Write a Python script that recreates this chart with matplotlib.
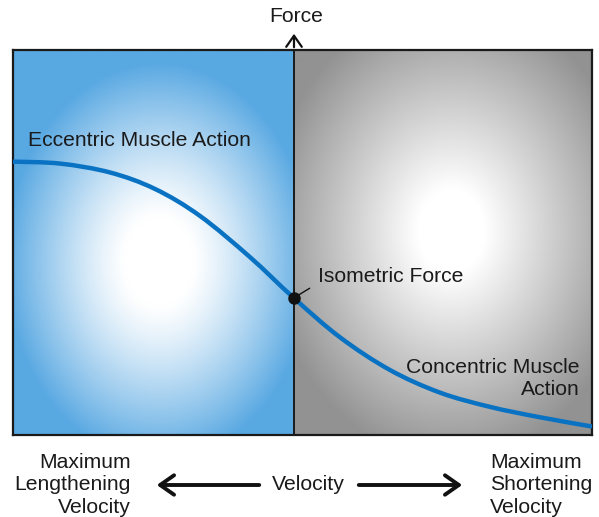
import numpy as np
import matplotlib
matplotlib.use("Agg")
import matplotlib.pyplot as plt
from matplotlib.path import Path
from matplotlib.patches import PathPatch, FancyArrowPatch

plt.rcParams['font.family'] = ['Liberation Sans', 'DejaVu Sans']

# Force-velocity relationship (velocity: negative = lengthening, positive = shortening)
velocity = [-1.0, -0.833, -0.655, -0.494, -0.334, -0.156, 0.0,
            0.164, 0.342, 0.521, 0.699, 0.877, 1.062]
force = [0.710, 0.705, 0.682, 0.639, 0.569, 0.462, 0.356,
         0.254, 0.169, 0.110, 0.073, 0.046, 0.022]
isometric_force = 0.356

x_min, x_max = -1.0, 1.062
y_min, y_max = 0.0, 1.0

BLUE_EDGE = np.array([88, 168, 226]) / 255
GRAY_EDGE = np.array([146, 146, 146]) / 255
CURVE = '#0a72c2'
INK = '#1a1a1a'
FS = 15.2

fig = plt.figure(figsize=(5.99, 5.17), dpi=100)
W, H = 599, 517
ax = fig.add_axes([13 / W, (H - 435) / H, 579 / W, 385 / H])
ax.set_xticks([])
ax.set_yticks([])
for s in ax.spines.values():
    s.set_linewidth(1.6)
    s.set_color(INK)


def radial_fill(x0, x1, cx, cy, rx, ry, edge, inner=0.22, power=1.2):
    nx, ny = 300, 300
    xs = np.linspace(x0, x1, nx)
    ys = np.linspace(y_min, y_max, ny)
    X, Y = np.meshgrid(xs, ys)
    d = np.sqrt(((X - cx) / rx) ** 2 + ((Y - cy) / ry) ** 2)
    t = np.clip((d - inner) / (1 - inner), 0, 1) ** power
    img = (1 - t)[..., None] * np.ones(3) + t[..., None] * edge
    ax.imshow(img, extent=(x0, x1, y_min, y_max), origin='lower',
              aspect='auto', interpolation='bilinear', zorder=0)


# Eccentric (lengthening) half and concentric (shortening) half
radial_fill(x_min, 0.0, -0.48, 0.45, 0.55, 0.52, BLUE_EDGE)
radial_fill(0.0, x_max, 0.56, 0.53, 0.66, 0.60, GRAY_EDGE, inner=0.18, power=1.0)
ax.set_xlim(x_min, x_max)
ax.set_ylim(y_min, y_max)

ax.axvline(0, color=INK, lw=1.4, zorder=2)


def smooth_path(xs, ys):
    pts = np.column_stack([xs, ys])
    verts = [pts[0]]
    codes = [Path.MOVETO]
    n = len(pts)
    for i in range(n - 1):
        p0 = pts[i - 1] if i > 0 else pts[i]
        p1, p2 = pts[i], pts[i + 1]
        p3 = pts[i + 2] if i + 2 < n else pts[i + 1]
        c1 = p1 + (p2 - p0) / 6
        c2 = p2 - (p3 - p1) / 6
        verts += [c1, c2, p2]
        codes += [Path.CURVE4] * 3
    return Path(verts, codes)


ax.add_patch(PathPatch(smooth_path(velocity, force), fill=False,
                       edgecolor=CURVE, lw=3.2, capstyle='butt', zorder=3))
ax.plot([0], [isometric_force], 'o', color='#111111', ms=8, zorder=4)

ax.annotate('', xy=(0.0, isometric_force), xytext=(0.065, 0.385),
            arrowprops=dict(arrowstyle='-', color='#111111', lw=1.0), zorder=4)

ax.text(-0.948, 0.764, 'Eccentric Muscle Action', fontsize=FS,
        ha='left', va='center', color=INK, zorder=5)
ax.text(0.085, 0.412, 'Isometric Force', fontsize=FS,
        ha='left', va='center', color=INK, zorder=5)
ax.text(1.017, 0.146, 'Concentric Muscle\nAction', fontsize=FS,
        ha='right', va='center', color=INK, linespacing=1.2, zorder=5)

# Force axis arrow above the plot
fig.add_artist(FancyArrowPatch((294 / W, (H - 50) / H), (294 / W, (H - 31) / H),
                               transform=fig.transFigure,
                               arrowstyle='->,head_length=5,head_width=3.5',
                               color='#111111', lw=1.6, mutation_scale=1.6))
fig.text(296 / W, (H - 17) / H, 'Force', fontsize=FS, ha='center', va='center',
         color=INK)

# Velocity axis labels
fig.text(131 / W, (H - 485) / H, 'Maximum\nLengthening\nVelocity', fontsize=FS,
         ha='right', va='center', linespacing=1.25, color=INK)
fig.text(490 / W, (H - 485) / H, 'Maximum\nShortening\nVelocity', fontsize=FS,
         ha='left', va='center', linespacing=1.25, color=INK)
fig.text(308 / W, (H - 485) / H, 'Velocity', fontsize=FS,
         ha='center', va='center', color=INK)
fig.add_artist(FancyArrowPatch((262 / W, (H - 485) / H), (154 / W, (H - 485) / H),
                               transform=fig.transFigure,
                               arrowstyle='->,head_length=10,head_width=7',
                               color='#111111', lw=2.8, mutation_scale=1))
fig.add_artist(FancyArrowPatch((356 / W, (H - 485) / H), (465 / W, (H - 485) / H),
                               transform=fig.transFigure,
                               arrowstyle='->,head_length=10,head_width=7',
                               color='#111111', lw=2.8, mutation_scale=1))

fig.savefig('out.png', dpi=100)
